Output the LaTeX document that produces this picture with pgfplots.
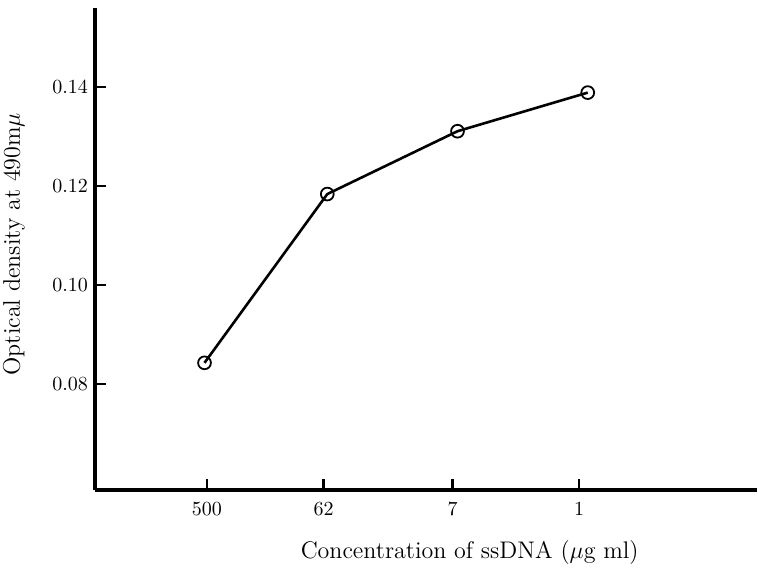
\documentclass[border=0pt]{standalone}
\usepackage{pgfplots}
\pgfplotsset{compat=1.18}

\begin{document}
\begin{tikzpicture}
% 1 px of the reference = 0.5pt
\useasboundingbox (-47.5pt,-41.5pt) rectangle (331.5pt,245pt);
\begin{axis}[
at={(0,0)}, anchor=south west,
scale only axis,
width=331pt, height=241pt,
axis lines=left,
axis line style={-, line width=1.6pt},
xmin=-0.903, xmax=4.435,
ymin=0.0586, ymax=0.156,
xtick={0,0.94,1.98,3},
xticklabels={500,62,7,1},
ytick={0.08,0.10,0.12,0.14},
scaled y ticks=false,
yticklabel style={/pgf/number format/.cd, fixed, fixed zerofill, precision=2},
xticklabel style={yshift=-2.5pt},
tick style={line width=1.2pt, black},
tick align=inside,
major tick length=5.5pt,
xlabel={Concentration of ssDNA ($\mu$g ml)},
xlabel style={font=\large, at={(axis description cs:0.566,0)}, anchor=center, yshift=-31.5pt},
ylabel={Optical density at 490m$\mu$},
ylabel style={font=\large, at={(axis description cs:0,0.51)}, anchor=center, yshift=40.5pt},
clip=false,
]
\addplot[black, line width=1.3pt, mark=o, mark size=3.2pt,
  mark options={fill=white, line width=0.9pt}]
  coordinates {
  (-0.02,0.0843)
  (0.97,0.1184)
  (2.02,0.1311)
  (3.07,0.1389)
  };
\end{axis}
\end{tikzpicture}
\end{document}
